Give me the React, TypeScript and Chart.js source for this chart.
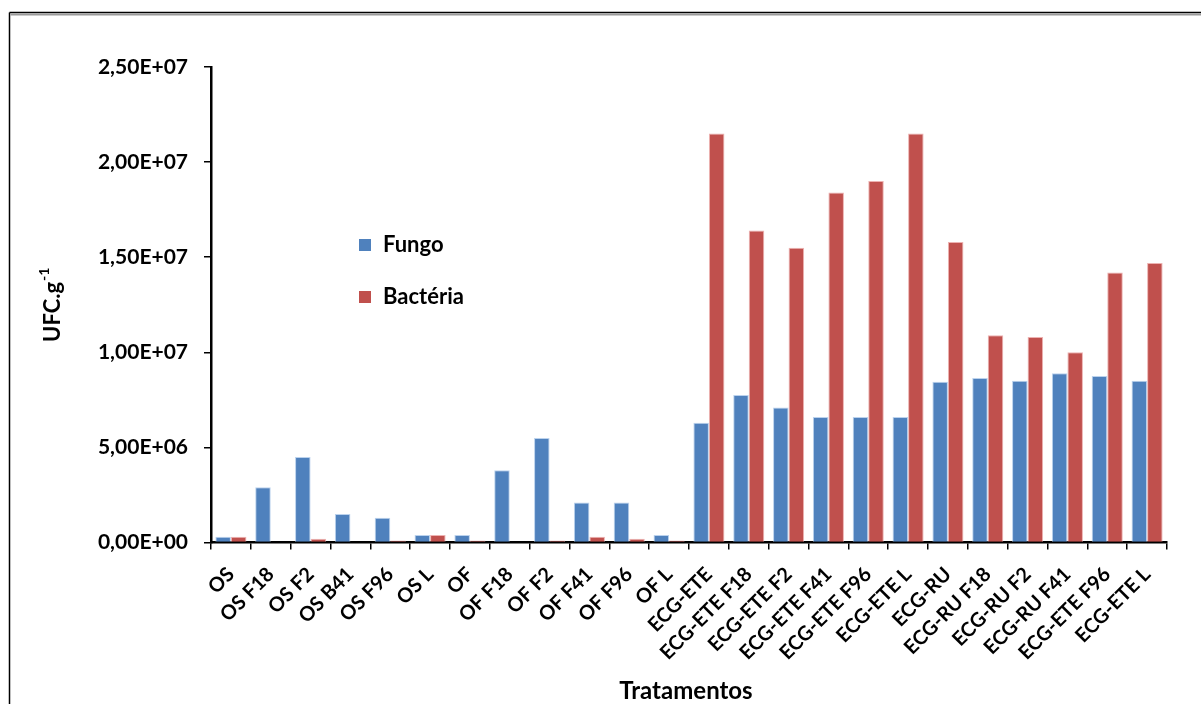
import React, { useEffect, useRef } from "react";
import { Chart, registerables } from "chart.js";

Chart.register(...registerables);

const categories = [
  "OS", "OS F18", "OS F2", "OS B41", "OS F96", "OS L",
  "OF", "OF F18", "OF F2", "OF F41", "OF F96", "OF L",
  "ECG-ETE", "ECG-ETE F18", "ECG-ETE F2", "ECG-ETE F41", "ECG-ETE F96", "ECG-ETE L",
  "ECG-RU", "ECG-RU F18", "ECG-RU F2", "ECG-RU F41", "ECG-ETE F96", "ECG-ETE L",
];

const fungo = [
  0.3e6, 2.9e6, 4.5e6, 1.5e6, 1.3e6, 0.4e6,
  0.4e6, 3.8e6, 5.5e6, 2.1e6, 2.1e6, 0.4e6,
  6.3e6, 7.75e6, 7.1e6, 6.6e6, 6.6e6, 6.6e6,
  8.45e6, 8.65e6, 8.5e6, 8.9e6, 8.75e6, 8.5e6,
];

const bacteria = [
  0.3e6, 0, 0.2e6, 0, 0.1e6, 0.4e6,
  0.1e6, 0, 0.1e6, 0.3e6, 0.2e6, 0.1e6,
  2.15e7, 1.64e7, 1.55e7, 1.84e7, 1.9e7, 2.15e7,
  1.58e7, 1.09e7, 1.08e7, 1.0e7, 1.42e7, 1.47e7,
];

const yTicks = [0, 5e6, 1e7, 1.5e7, 2e7, 2.5e7];
const seriesNames = ["Fungo", "Bactéria"];
const seriesColors = ["#4F81BD", "#C0504D"];
const seriesEdges = ["rgba(180,205,235,0.9)", "rgba(235,170,168,0.9)"];
const xTitle = "Tratamentos";
const yTitle = "UFC.g";
const yTitleSup = "-1";

const FONT = "Lato, 'Open Sans', sans-serif";

function fmtSci(v: number): string {
  const s = v.toExponential(2);
  const [m, e] = s.split("e");
  const sign = e[0] === "-" ? "-" : "+";
  const num = e.replace(/[+-]/, "").padStart(2, "0");
  return m.replace(".", ",") + "E" + sign + num;
}

const decorPlugin = {
  id: "decor",
  afterDraw(chart: any) {
    const ctx = chart.ctx as CanvasRenderingContext2D;
    const w = chart.width;
    const h = chart.height;
    ctx.save();
    // frame
    ctx.strokeStyle = "#000";
    ctx.lineWidth = 1.5;
    ctx.beginPath();
    ctx.moveTo(9.5, 12.5);
    ctx.lineTo(w, 12.5);
    ctx.moveTo(9.5, 12.5);
    ctx.lineTo(9.5, h);
    ctx.stroke();
    ctx.strokeStyle = "#9a9a9a";
    ctx.lineWidth = 2;
    ctx.beginPath();
    ctx.moveTo(10.5, 14.5);
    ctx.lineTo(w, 14.5);
    ctx.stroke();

    // legend
    ctx.font = `bold 22px ${FONT}`;
    ctx.textBaseline = "middle";
    ctx.textAlign = "left";
    const lx = 359;
    const ly = [245, 297];
    seriesNames.forEach((name, i) => {
      ctx.fillStyle = seriesColors[i];
      ctx.fillRect(lx, ly[i] - 6, 12, 12);
      ctx.fillStyle = "#000";
      ctx.fillText(name, lx + 24, ly[i]);
    });

    // x title
    ctx.font = `bold 24px ${FONT}`;
    ctx.textAlign = "center";
    ctx.textBaseline = "middle";
    ctx.fillStyle = "#000";
    const ca = chart.chartArea;
    ctx.fillText(xTitle, 686, 691);

    // y title with superscript
    ctx.translate(51, (ca.top + ca.bottom) / 2);
    ctx.rotate(-Math.PI / 2);
    ctx.font = `bold 22px ${FONT}`;
    const mainW = ctx.measureText(yTitle).width;
    ctx.font = `bold 14px ${FONT}`;
    const supW = ctx.measureText(yTitleSup).width;
    const total = mainW + supW + 1;
    ctx.textAlign = "left";
    ctx.font = `bold 22px ${FONT}`;
    ctx.fillText(yTitle, -total / 2, 2);
    ctx.font = `bold 14px ${FONT}`;
    ctx.fillText(yTitleSup, -total / 2 + mainW + 1, -7);
    ctx.restore();
  },
};

export default function App() {
  const ref = useRef<HTMLCanvasElement | null>(null);

  useEffect(() => {
    if (!ref.current) return;
    const edge = (c: any) => {
      const v = c.raw;
      return v ? 1 : 0;
    };
    const chart = new Chart(ref.current, {
      type: "bar",
      data: {
        labels: categories,
        datasets: [
          {
            label: seriesNames[0],
            data: fungo,
            backgroundColor: seriesColors[0],
            borderColor: seriesEdges[0],
            borderWidth: edge,
            barPercentage: 1,
            categoryPercentage: 0.78,
          },
          {
            label: seriesNames[1],
            data: bacteria,
            backgroundColor: seriesColors[1],
            borderColor: seriesEdges[1],
            borderWidth: edge,
            barPercentage: 1,
            categoryPercentage: 0.78,
          },
        ],
      },
      options: {
        responsive: false,
        animation: false,
        layout: { padding: { top: 67, right: 34, left: 0, bottom: 0 } },
        plugins: {
          legend: { display: false },
          tooltip: { enabled: false },
          title: { display: false },
        },
        scales: {
          x: {
            offset: true,
            grid: {
              offset: true,
              drawOnChartArea: false,
              drawTicks: true,
              tickLength: 7,
              color: "#000",
              lineWidth: 1.5,
            },
            border: { display: true, color: "#000", width: 2.5 },
            ticks: {
              autoSkip: false,
              maxRotation: 45,
              minRotation: 45,
              padding: 13,
              color: "#000",
              font: { family: FONT, size: 20, weight: "bold" },
            },
            afterFit(scale: any) {
              scale.height = 161.5;
            },
          },
          y: {
            min: 0,
            max: 2.5e7,
            afterBuildTicks(scale: any) {
              scale.ticks = yTicks.map((v) => ({ value: v }));
            },
            grid: {
              drawOnChartArea: false,
              drawTicks: true,
              tickLength: 7,
              color: "#000",
              lineWidth: 1.5,
            },
            border: { display: true, color: "#000", width: 2.5 },
            ticks: {
              padding: 16,
              color: "#000",
              font: { family: FONT, size: 21, weight: "bold" },
              callback: (v: any) => fmtSci(Number(v)),
            },
            afterFit(scale: any) {
              scale.width = 211;
            },
          },
        },
      },
      plugins: [decorPlugin],
    });
    return () => chart.destroy();
  }, []);

  return (
    <div style={{ position: "absolute", left: 0, top: 0, width: 1201, height: 704, background: "#fff" }}>
      <canvas ref={ref} width={1201} height={704} style={{ width: 1201, height: 704, display: "block" }} />
    </div>
  );
}
